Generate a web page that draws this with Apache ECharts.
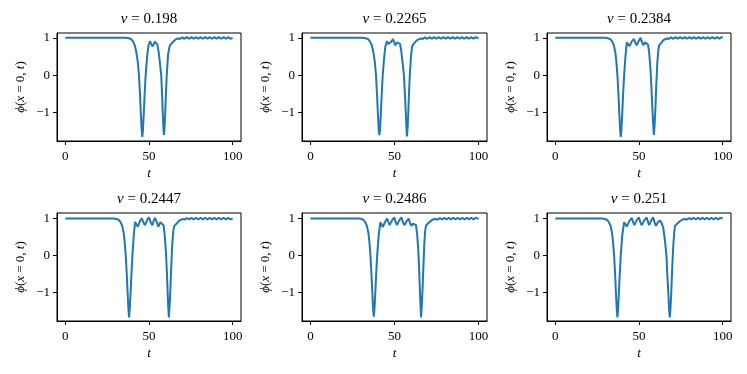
<!DOCTYPE html>
<html>
<head>
<meta charset="utf-8">
<title>phi(x=0,t)</title>
<script src="https://cdn.jsdelivr.net/npm/echarts@6/dist/echarts.min.js"></script>
<style>html,body{margin:0;background:#fff}#chart{width:747px;height:374px}</style>
</head>
<body>
<div id="chart"></div>
<script>
// speeds shown in the panel titles
const speeds = ['0.198', '0.2265', '0.2384', '0.2447', '0.2486', '0.251'];
const xTicks = [0, 50, 100];
const yTicks = [-1, 0, 1];

// [t, phi(x=0,t)]
const phi_0198 = [[0,1],[36,1],[38,0.99],[39.5,0.96],[40.5,0.9],[41.5,0.8],[42.5,0.6],[43.3,0.35],[44,0],[44.6,-0.5],[45.1,-1.0],[45.6,-1.45],[46,-1.65],[46.4,-1.45],[46.9,-1.0],[47.4,-0.5],[48,0],[48.8,0.45],[49.6,0.78],[50.6,0.91],[51.3,0.84],[52,0.77],[52.8,0.83],[53.5,0.9],[54.2,0.91],[55,0.82],[55.8,0.62],[56.6,0.3],[57.3,0],[57.8,-0.5],[58.2,-1.0],[58.6,-1.4],[58.9,-1.6],[59.3,-1.4],[59.7,-1.0],[60.1,-0.5],[60.6,0],[61.4,0.55],[62.3,0.78],[63.1,0.83],[63.9,0.87],[64.9,0.92],[65.9,0.96],[67.2,0.985],[68.5,0.97],[69.8,1.015],[71.2,0.975],[72.6,1.02],[74,0.975],[75.3,1.02],[76.7,0.975],[78.1,1.02],[79.5,0.975],[80.8,1.02],[82.2,0.975],[83.6,1.02],[85,0.975],[86.3,1.02],[87.7,0.975],[89.1,1.02],[90.5,0.975],[91.8,1.02],[93.2,0.975],[94.6,1.02],[96,0.975],[97.3,1.02],[98.7,0.975],[100,1.0]];
const phi_02265 = [[0,1],[31,1],[33,0.99],[34.5,0.96],[35.5,0.9],[36.5,0.8],[37.5,0.6],[38.3,0.35],[39,0],[39.6,-0.5],[40.1,-1.0],[40.6,-1.45],[41,-1.6],[41.4,-1.45],[41.9,-1.0],[42.4,-0.5],[43,0],[43.8,0.45],[44.6,0.78],[45.5,0.91],[46.3,0.84],[47.1,0.79],[48.1,0.9],[49.1,0.97],[49.8,0.88],[50.5,0.8],[51.5,0.88],[52.5,0.93],[53.3,0.84],[54.1,0.62],[54.9,0.3],[55.6,0],[56.2,-0.5],[56.7,-1.0],[57.1,-1.4],[57.4,-1.64],[57.8,-1.4],[58.2,-1.0],[58.6,-0.5],[59.1,0],[59.8,0.5],[60.5,0.78],[61.4,0.84],[62.4,0.88],[63.4,0.94],[64.4,0.97],[65.6,0.985],[66.8,0.97],[68.1,1.015],[69.5,0.975],[70.9,1.02],[72.2,0.975],[73.6,1.02],[75,0.975],[76.3,1.02],[77.7,0.975],[79.1,1.02],[80.5,0.975],[81.8,1.02],[83.2,0.975],[84.6,1.02],[86,0.975],[87.3,1.02],[88.7,0.975],[90.1,1.02],[91.5,0.975],[92.8,1.02],[94.2,0.975],[95.6,1.02],[97,0.975],[98.3,1.02],[100,0.99]];
const phi_02384 = [[0,1],[30,1],[31.5,0.99],[33,0.96],[34,0.9],[35,0.8],[35.9,0.6],[36.5,0.35],[37.1,0],[37.7,-0.5],[38.2,-1.0],[38.7,-1.45],[39.1,-1.65],[39.5,-1.45],[40,-1.0],[40.5,-0.5],[41.1,0],[41.9,0.5],[42.7,0.88],[43.5,0.84],[44.3,0.78],[45.6,0.9],[47,0.97],[47.8,0.87],[48.6,0.8],[49.8,0.92],[51,1.0],[51.8,0.88],[52.6,0.8],[53.6,0.88],[54.6,0.92],[55.4,0.82],[56.1,0.6],[56.8,0.2],[57.4,-0.3],[57.9,-0.8],[58.4,-1.25],[58.9,-1.6],[59.3,-1.35],[59.8,-0.9],[60.3,-0.3],[60.9,0.3],[61.5,0.65],[62,0.8],[62.7,0.84],[63.4,0.87],[64.4,0.93],[65.4,0.97],[66.6,0.985],[67.8,0.97],[69.1,1.015],[70.5,0.975],[71.9,1.02],[73.2,0.975],[74.6,1.02],[76,0.975],[77.4,1.02],[78.7,0.975],[80.1,1.02],[81.5,0.975],[82.8,1.02],[84.2,0.975],[85.6,1.02],[87,0.975],[88.3,1.02],[89.7,0.975],[91.1,1.02],[92.5,0.975],[93.8,1.02],[95.2,0.975],[96.6,1.02],[98,0.975],[99.3,1.02],[100,1.0]];
const phi_02447 = [[0,1],[29,1],[30.5,0.99],[32,0.96],[33,0.9],[34,0.8],[34.9,0.6],[35.5,0.35],[36.1,0],[36.7,-0.5],[37.2,-1.0],[37.7,-1.45],[38.1,-1.68],[38.5,-1.45],[39,-1.0],[39.5,-0.5],[40.1,0],[40.9,0.55],[41.7,0.91],[42.5,0.84],[43.3,0.78],[44.5,0.92],[45.6,1.01],[46.6,0.9],[47.6,0.82],[48.8,0.95],[50,1.03],[51,0.9],[52,0.82],[52.8,0.94],[53.6,1.02],[54.6,0.9],[55.6,0.78],[56.8,0.9],[57.9,0.95],[58.7,0.82],[59.4,0.55],[60.1,0.1],[60.7,-0.45],[61.1,-0.95],[61.5,-1.4],[61.9,-1.68],[62.3,-1.4],[62.8,-0.9],[63.3,-0.3],[63.9,0.3],[64.5,0.65],[65.1,0.8],[66,0.84],[66.9,0.88],[67.9,0.94],[68.9,0.98],[70.1,0.985],[71.3,0.97],[72.6,1.015],[74,0.975],[75.4,1.02],[76.7,0.975],[78.1,1.02],[79.5,0.975],[80.9,1.02],[82.2,0.975],[83.6,1.02],[85,0.975],[86.3,1.02],[87.7,0.975],[89.1,1.02],[90.5,0.975],[91.8,1.02],[93.2,0.975],[94.6,1.02],[96,0.975],[97.3,1.02],[98.7,0.975],[100,1.0]];
const phi_02486 = [[0,1],[29,1],[30.3,0.99],[31.6,0.96],[32.6,0.9],[33.6,0.8],[34.5,0.6],[35.1,0.35],[35.7,0],[36.3,-0.5],[36.8,-1.0],[37.3,-1.45],[37.7,-1.66],[38.1,-1.45],[38.6,-1.0],[39.1,-0.5],[39.7,0],[40.6,0.55],[41.6,0.9],[42.3,0.83],[43,0.77],[44.3,0.9],[45.6,1.0],[46.4,0.9],[47.1,0.82],[48.5,0.95],[49.9,1.03],[50.7,0.9],[51.5,0.82],[52.8,0.95],[54.1,1.03],[55,0.9],[55.9,0.82],[57.2,0.93],[58.4,1.0],[59.2,0.88],[60,0.8],[61,0.86],[62,0.9],[62.8,0.82],[63.5,0.55],[64.2,0.1],[64.7,-0.45],[65.1,-0.95],[65.5,-1.4],[65.8,-1.68],[66.2,-1.4],[66.7,-0.9],[67.2,-0.3],[67.7,0.3],[68.2,0.65],[68.7,0.8],[69.7,0.86],[70.7,0.9],[72,0.95],[73.3,0.98],[74.5,0.985],[75.7,0.97],[77,1.015],[78.3,0.975],[79.6,1.02],[81,0.975],[82.3,1.02],[83.6,0.975],[85,1.02],[86.3,0.975],[87.6,1.02],[89,0.975],[90.3,1.02],[91.6,0.975],[93,1.02],[94.3,0.975],[95.6,1.02],[97,0.975],[98.3,1.02],[100,0.99]];
const phi_0251 = [[0,1],[28,1],[29.5,0.99],[31,0.96],[32,0.9],[33,0.8],[33.9,0.6],[34.5,0.35],[35.1,0],[35.7,-0.5],[36.2,-1.0],[36.7,-1.45],[37.1,-1.68],[37.5,-1.45],[38,-1.0],[38.5,-0.5],[39.1,0],[40,0.55],[41.1,0.9],[41.9,0.84],[42.7,0.78],[44.2,0.93],[45.7,1.02],[46.5,0.9],[47.2,0.82],[48.6,0.95],[50,1.03],[50.8,0.9],[51.6,0.82],[53.1,0.95],[54.6,1.03],[55.4,0.9],[56.1,0.82],[57.3,0.95],[58.5,1.03],[59.3,0.9],[60.1,0.8],[61.3,0.9],[62.5,0.95],[63.5,0.88],[64.5,0.75],[65.4,0.45],[66.4,0],[66.9,-0.5],[67.5,-1.0],[68,-1.45],[68.4,-1.68],[68.8,-1.45],[69.3,-1.0],[69.8,-0.4],[70.4,0.2],[71,0.6],[71.5,0.8],[72.4,0.85],[73.3,0.88],[74.8,0.94],[76.3,0.98],[77.5,0.985],[78.7,0.97],[80,1.015],[81.3,0.975],[82.6,1.02],[84,0.975],[85.3,1.02],[86.6,0.975],[88,1.02],[89.3,0.975],[90.6,1.02],[92,0.975],[93.3,1.02],[94.6,0.975],[96,1.02],[97.3,0.975],[98.6,1.02],[100,1.0]];

const panels = [phi_0198, phi_02265, phi_02384, phi_02447, phi_02486, phi_0251];

const font = 'Liberation Serif, DejaVu Serif, serif';
const lefts = [57, 302, 547];
const widths = [184, 185, 184];
const tops = [33, 213];
const yRange = [[-1.76, 1.13], [-1.78, 1.15]];

let chart = echarts.init(document.getElementById('chart'), null, {renderer: 'canvas'});

let grid = [], xAxis = [], yAxis = [], series = [], title = [];
panels.forEach((data, i) => {
    const col = i % 3, row = Math.floor(i / 3);
    grid.push({
        left: lefts[col], top: tops[row], width: widths[col], height: 108,
        show: true, borderColor: '#000', borderWidth: 1, containLabel: false
    });
    title.push({
        text: '{i|v} = ' + speeds[i],
        left: lefts[col] + widths[col] / 2, top: row === 0 ? 12 : 192,
        textAlign: 'center', padding: 0,
        textStyle: {
            fontFamily: font, fontSize: 15, fontWeight: 'normal', color: '#000',
            rich: {i: {fontFamily: font, fontSize: 15, fontStyle: 'italic', color: '#000'}}
        }
    });
    xAxis.push({
        type: 'value', gridIndex: i, min: -5, max: 105,
        name: 't', nameLocation: 'middle', nameGap: 26,
        nameTextStyle: {fontFamily: font, fontSize: 13, fontStyle: 'italic', color: '#000'},
        axisLine: {show: true, onZero: false, lineStyle: {color: '#000', width: 1}},
        axisTick: {show: true, inside: false, length: 4, customValues: xTicks, lineStyle: {color: '#000', width: 1}},
        axisLabel: {customValues: xTicks, margin: 9, fontFamily: font, fontSize: 13, color: '#000'},
        splitLine: {show: false}
    });
    yAxis.push({
        type: 'value', gridIndex: i, min: yRange[row][0], max: yRange[row][1],
        name: '{i|ϕ}({i|x} = 0, {i|t})', nameLocation: 'middle', nameGap: 30, nameRotate: 90,
        nameTextStyle: {
            fontFamily: font, fontSize: 13, color: '#000',
            rich: {i: {fontFamily: font, fontSize: 13, fontStyle: 'italic', color: '#000'}}
        },
        axisLine: {show: true, onZero: false, lineStyle: {color: '#000', width: 1}},
        axisTick: {show: true, inside: false, length: 4, customValues: yTicks, lineStyle: {color: '#000', width: 1}},
        axisLabel: {
            customValues: yTicks, margin: 7, fontFamily: font, fontSize: 13, color: '#000',
            formatter: v => v < 0 ? '\u2212' + Math.abs(v) : String(v)
        },
        splitLine: {show: false}
    });
    series.push({
        type: 'line', xAxisIndex: i, yAxisIndex: i, data: data,
        showSymbol: false, smooth: false,
        lineStyle: {color: '#1f77b4', width: 2}, itemStyle: {color: '#1f77b4'}
    });
});

chart.setOption({
    animation: false,
    backgroundColor: '#fff',
    title: title,
    grid: grid,
    xAxis: xAxis,
    yAxis: yAxis,
    series: series
});
</script>
</body>
</html>
